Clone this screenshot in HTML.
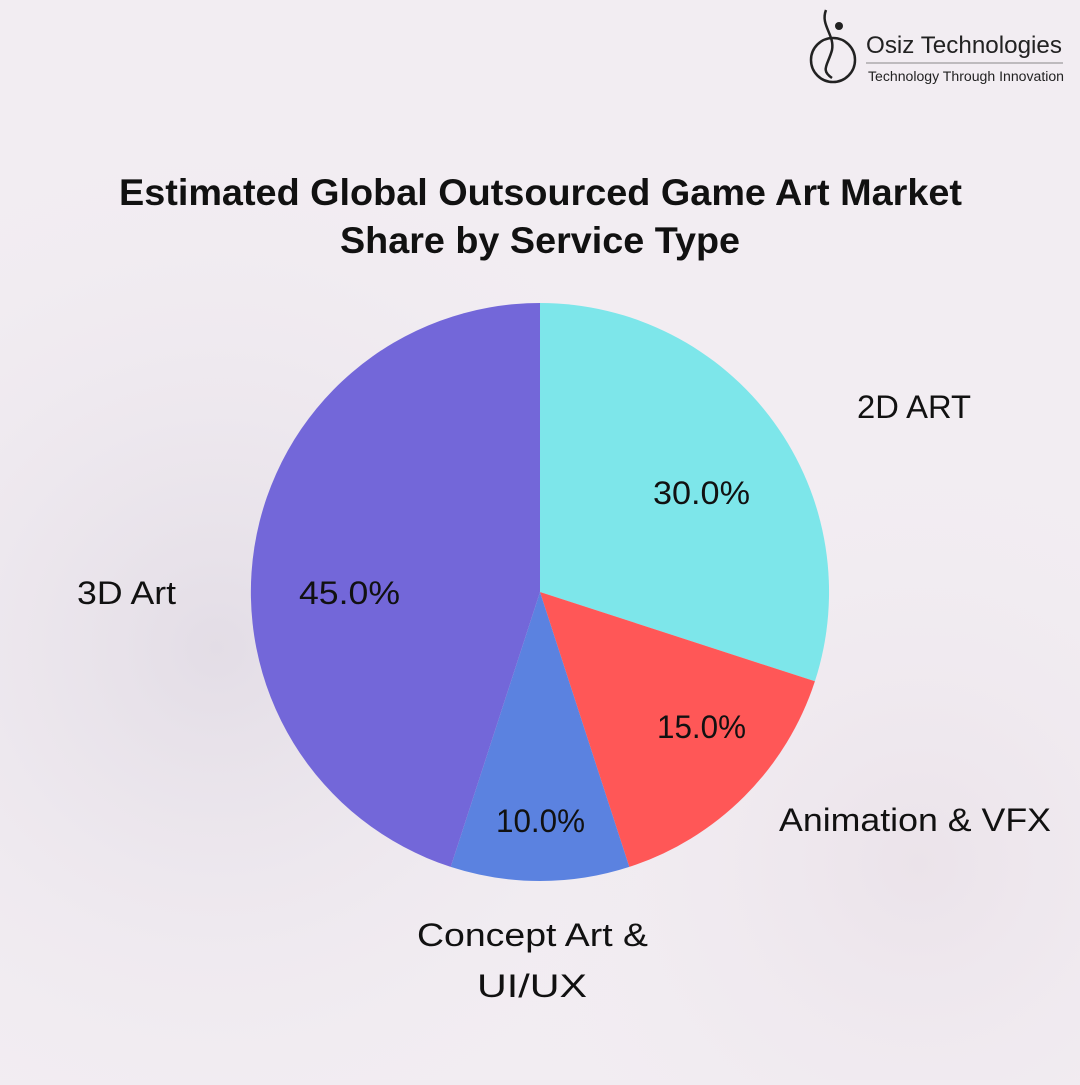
<!DOCTYPE html>
<html><head><meta charset="utf-8"><style>
html,body{margin:0;padding:0}
body{width:1080px;height:1080px;overflow:hidden;background:#f1ecf1;font-family:"Liberation Sans",sans-serif}
</style></head><body>
<svg width="1080" height="1080" viewBox="0 0 1080 1080" xmlns="http://www.w3.org/2000/svg">
<defs>
<radialGradient id="g1" cx="0.2" cy="0.6" r="0.5"><stop offset="0" stop-color="#e3dde6"/><stop offset="1" stop-color="#f1ecf1" stop-opacity="0"/></radialGradient>
<radialGradient id="g2" cx="0.85" cy="0.8" r="0.4"><stop offset="0" stop-color="#ebe3ea"/><stop offset="1" stop-color="#f1ecf1" stop-opacity="0"/></radialGradient>
</defs>
<rect width="1080" height="1080" fill="#f2edf2"/>
<rect width="1080" height="1080" fill="url(#g1)"/>
<rect width="1080" height="1080" fill="url(#g2)"/>
<g fill="none" stroke="#222" stroke-width="2.5">
<circle cx="833" cy="60" r="22"/>
<path d="M826 10 C820 25 835 35 832 50 C828 65 820 70 832 78"/>
</g>
<circle cx="839" cy="26" r="4" fill="#222"/>
<text x="866" y="53" font-size="24" fill="#222" textLength="196" lengthAdjust="spacingAndGlyphs">Osiz Technologies</text>
<line x1="866" y1="63" x2="1063" y2="63" stroke="#888" stroke-width="1"/>
<text x="868" y="81" font-size="13.5" fill="#222" textLength="196" lengthAdjust="spacingAndGlyphs">Technology Through Innovation</text>
<text x="119" y="205" font-size="37" font-weight="bold" fill="#111" textLength="843" lengthAdjust="spacingAndGlyphs">Estimated Global Outsourced Game Art Market</text>
<text x="340" y="253" font-size="37" font-weight="bold" fill="#111" textLength="400" lengthAdjust="spacingAndGlyphs">Share by Service Type</text>
<path d="M540 592 L540 303 A289 289 0 0 1 814.9 681.3 Z" fill="#7de6ea"/>
<path d="M540 592 L814.9 681.3 A289 289 0 0 1 629.3 866.9 Z" fill="#ff5757"/>
<path d="M540 592 L629.3 866.9 A289 289 0 0 1 450.7 866.9 Z" fill="#5b82e0"/>
<path d="M540 592 L450.7 866.9 A289 289 0 0 1 540 303 Z" fill="#7367d9"/>
<g font-size="32" fill="#111" lengthAdjust="spacingAndGlyphs">
<text x="653" y="504" textLength="97" lengthAdjust="spacingAndGlyphs">30.0%</text>
<text x="657" y="738" textLength="89" lengthAdjust="spacingAndGlyphs">15.0%</text>
<text x="496" y="832" textLength="89" lengthAdjust="spacingAndGlyphs">10.0%</text>
<text x="299" y="604" textLength="101" lengthAdjust="spacingAndGlyphs">45.0%</text>
<text x="857" y="418" textLength="114" lengthAdjust="spacingAndGlyphs">2D ART</text>
<text x="779" y="831" textLength="272" lengthAdjust="spacingAndGlyphs">Animation &amp; VFX</text>
<text x="417" y="946" textLength="231" lengthAdjust="spacingAndGlyphs">Concept Art &amp;</text>
<text x="477" y="997" textLength="110" lengthAdjust="spacingAndGlyphs">UI/UX</text>
<text x="77" y="604" textLength="99" lengthAdjust="spacingAndGlyphs">3D Art</text>
</g>
</svg>
</body></html>
